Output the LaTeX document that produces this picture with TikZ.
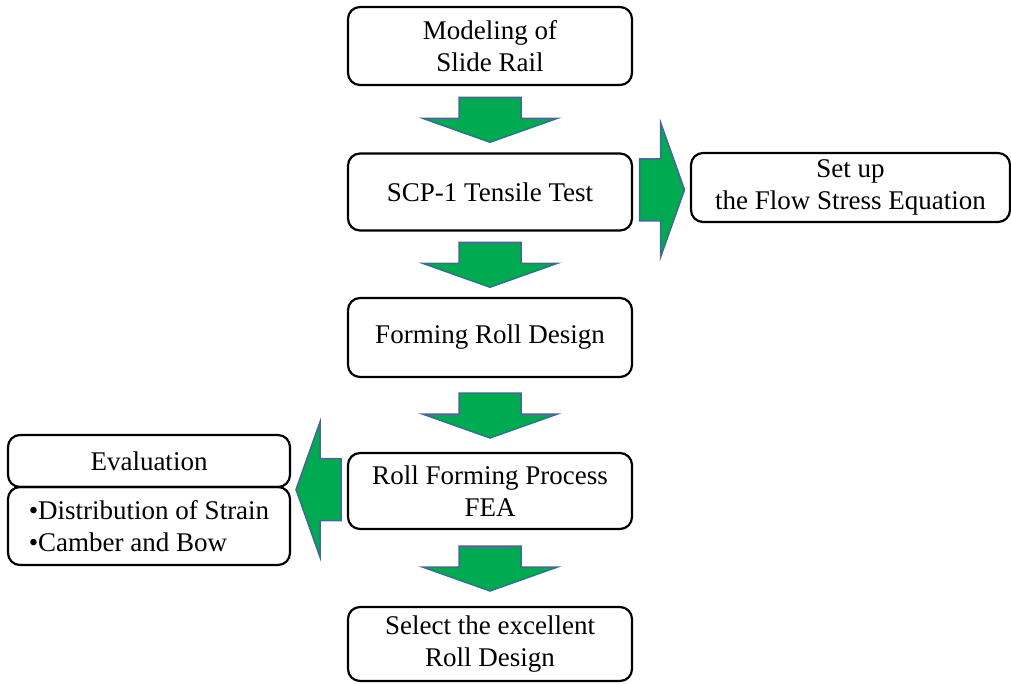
\documentclass[tikz,border=0pt]{standalone}
\usepackage{fontspec}
\setmainfont{Liberation Serif}
\usetikzlibrary{calc}
\definecolor{arrowgreen}{RGB}{0,170,80}
\definecolor{arrowblue}{RGB}{65,105,150}

\begin{document}
\begin{tikzpicture}[x=1pt, y=-1pt,
    box/.style={draw, line width=2.2pt, rounded corners=12pt, align=center,
      inner sep=0pt, minimum width=284pt, font=\fontsize{27}{32}\selectfont},
    blockarrow/.pic={
      \draw[line width=1.5pt, draw=arrowblue, fill=arrowgreen]
        (-22,-31) -- (-1,-31) -- (-1,-67.5) -- (23,0) -- (-1,67.5)
        -- (-1,31) -- (-22,31) -- cycle;}]
    \useasboundingbox (0,0) rectangle (1011,683);

    % Main flow
    \node[box, minimum height=78pt] (model) at (490,46) {Modeling of\\Slide Rail};
    \node[box, minimum height=77pt] (scp) at (490,192) {SCP-1 Tensile Test};
    \node[box, minimum height=79pt] (roll) at (490,337.5) {Forming Roll Design};
    \node[box, minimum height=76pt] (fea) at (490,491) {Roll Forming Process\\FEA};
    \node[box, minimum height=74pt] (select) at (490,644) {Select the excellent\\Roll Design};

    % Side boxes
    \node[box, minimum width=319pt, minimum height=69pt] (flow) at (850.5,187.5)
      {Set up\\the Flow Stress Equation};
    \node[box, minimum width=282pt, minimum height=52pt] (eval) at (149,461) {Evaluation};
    \node[box, minimum width=282pt, minimum height=78pt, align=left] (items) at (149,526)
      {\textbullet Distribution of Strain\\\textbullet Camber and Bow};

    % Block arrows
    \pic[rotate=-90] at ($(model.south)!0.5!(scp.north)$) {blockarrow};
    \pic[rotate=-90] at ($(scp.south)!0.5!(roll.north)$) {blockarrow};
    \pic[rotate=-90] at ($(roll.south)!0.5!(fea.north)$) {blockarrow};
    \pic[rotate=-90] at ($(fea.south)!0.5!(select.north)$) {blockarrow};
    \pic at ($(scp.east)!0.5!(flow.west)$) {blockarrow};
    \pic[rotate=180] at ($(fea.west)!0.5!(eval.south east)$) {blockarrow};
\end{tikzpicture}
\end{document}
